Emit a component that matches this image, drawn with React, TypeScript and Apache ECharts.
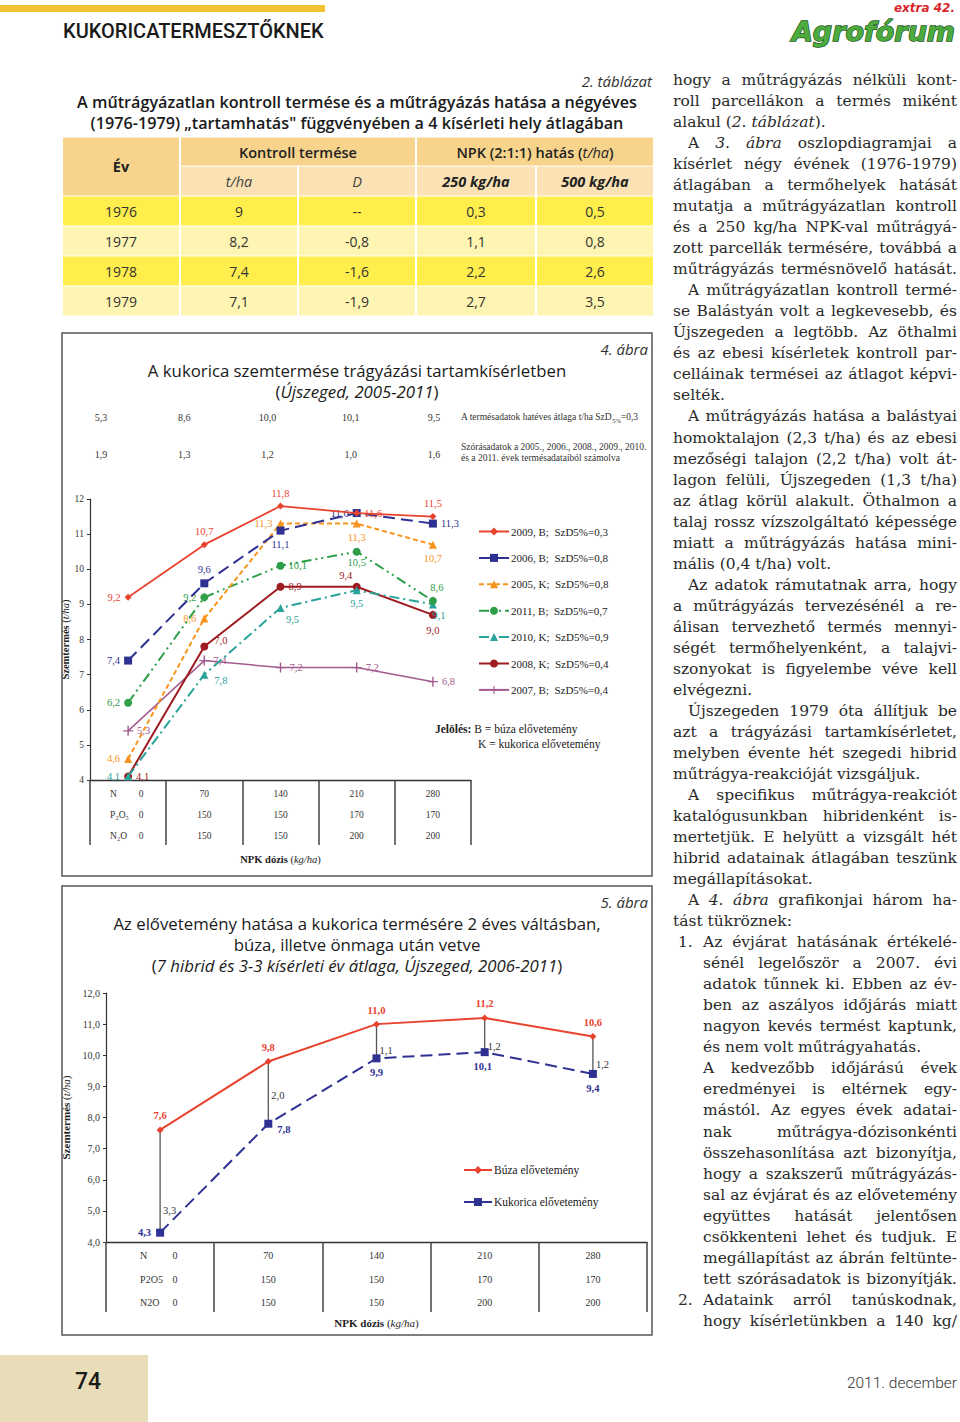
import React, { useEffect, useRef } from "react";
import * as echarts from "echarts";

// ---------- DATA ----------
const doseCats = ["0", "70", "140", "210", "280"];
const doseN = [0, 70, 140, 210, 280];
const doseP = [0, 150, 150, 170, 170];
const doseK = [0, 150, 150, 200, 200];
const rowNames4 = ["N", "P₂O₅", "N₂O"];
const rowNames5 = ["N", "P2O5", "N2O"];

// Table (2. táblázat)
const tableYears = ["1976", "1977", "1978", "1979"];
const controlYield = [9, 8.2, 7.4, 7.1];
const controlD: (number | null)[] = [null, -0.8, -1.6, -1.9];
const npk250 = [0.3, 1.1, 2.2, 2.7];
const npk500 = [0.5, 0.8, 2.6, 3.5];

// 4. ábra – plotted values
const s2009 = [9.2, 10.7, 11.8, 11.6, 11.5];
const s2006 = [7.4, 9.6, 11.1, 11.6, 11.3];
const s2005 = [4.6, 8.6, 11.3, 11.3, 10.7];
const s2011 = [6.2, 9.2, 10.1, 10.5, 9.1];
const s2010 = [4.1, 7.0, 8.9, 9.4, 9.0];
const s2008 = [4.1, 7.8, 9.5, 9.5, 8.7];
const s2007 = [5.4, 7.4, 7.2, 7.2, 6.8];
// 4. ábra – printed data labels
const l2009 = [9.2, 10.7, 11.8, 11.6, 11.5];
const l2006 = [7.4, 9.6, 11.1, 11.6, 11.3];
const l2005 = [4.6, 8.6, 11.3, 11.3, 10.7];
const l2011 = [6.2, 9.2, 10.1, 10.5, 8.6];
const l2010 = [4.1, 7.8, 9.5, 9.5, 9.1];
const l2008 = [4.1, 7.0, 8.9, 9.4, 9.0];
const l2007 = [5.3, 7.4, 7.2, 7.2, 6.8];
const avg6 = [5.3, 8.6, 10.0, 10.1, 9.5];
const sd6 = [1.9, 1.3, 1.2, 1.0, 1.6];

// 5. ábra
const buza = [7.6, 9.8, 11.0, 11.2, 10.6];
const kukorica = [4.3, 7.8, 9.9, 10.1, 9.4];
const diffs = [3.3, 2.0, 1.1, 1.2, 1.2];

// Body text column
const bodyLines: string[] = [
  "hogy a műtrágyázás nélküli kont-",
  "roll parcellákon a termés miként",
  "alakul (_2. táblázat_).|",
  ">A _3. ábra_ oszlopdiagramjai a",
  "kísérlet négy évének (1976-1979)",
  "átlagában a termőhelyek hatását",
  "mutatja a műtrágyázatlan kontroll",
  "és a 250 kg/ha NPK-val műtrágyá-",
  "zott parcellák termésére, továbbá a",
  "műtrágyázás termésnövelő hatását.",
  ">A műtrágyázatlan kontroll termé-",
  "se Balástyán volt a legkevesebb, és",
  "Újszegeden a legtöbb. Az öthalmi",
  "és az ebesi kísérletek kontroll par-",
  "celláinak termései az átlagot képvi-",
  "selték.|",
  ">A műtrágyázás hatása a balástyai",
  "homoktalajon (2,3 t/ha) és az ebesi",
  "mezőségi talajon (2,2 t/ha) volt át-",
  "lagon felüli, Újszegeden (1,3 t/ha)",
  "az átlag körül alakult. Öthalmon a",
  "talaj rossz vízszolgáltató képessége",
  "miatt a műtrágyázás hatása mini-",
  "mális (0,4 t/ha) volt.|",
  ">Az adatok rámutatnak arra, hogy",
  "a műtrágyázás tervezésénél a re-",
  "álisan tervezhető termés mennyi-",
  "ségét termőhelyenként, a talajvi-",
  "szonyokat is figyelembe véve kell",
  "elvégezni.|",
  ">Újszegeden 1979 óta állítjuk be",
  "azt a trágyázási tartamkísérletet,",
  "melyben évente hét szegedi hibrid",
  "műtrágya-reakcióját vizsgáljuk.|",
  ">A specifikus műtrágya-reakciót",
  "katalógusunkban hibridenként is-",
  "mertetjük. E helyütt a vizsgált hét",
  "hibrid adatainak átlagában teszünk",
  "megállapításokat.|",
  ">A _4. ábra_ grafikonjai három ha-",
  "tást tükröznek:|",
  "#1.#Az évjárat hatásának értékelé-",
  "~sénél legelőször a 2007. évi",
  "~adatok tűnnek ki. Ebben az év-",
  "~ben az aszályos időjárás miatt",
  "~nagyon kevés termést kaptunk,",
  "~és nem volt műtrágyahatás.|",
  "~A kedvezőbb időjárású évek",
  "~eredményei is eltérnek egy-",
  "~mástól. Az egyes évek adatai-",
  "~nak műtrágya-dózisonkénti",
  "~összehasonlítása azt bizonyítja,",
  "~hogy a szakszerű műtrágyázás-",
  "~sal az évjárat és az elővetemény",
  "~együttes hatását jelentősen",
  "~csökkenteni lehet és tudjuk. E",
  "~megállapítást az ábrán feltünte-",
  "~tett szórásadatok is bizonyítják.",
  "#2.#Adataink arról tanúskodnak,",
  "~hogy kísérletünkben a 140 kg/",
];

// ---------- STYLE ----------
const SERIF = '"Liberation Serif", "Times New Roman", serif';
const BODY = '"DejaVu Serif", serif';
const SANS = '"Open Sans", "Noto Sans", sans-serif';
const BODY_SIZE = 15.5;
const TITLE_SIZE = 16.8;

const fmt = (v: number) => v.toFixed(1).replace(".", ",");
const fmtT = (v: number) => String(v).replace(".", ",");

function T(x: number, y: number, text: string, s: any = {}) {
  const align = s.align || "left";
  const va = s.verticalAlign || "middle";
  return {
    type: "text",
    x,
    y,
    silent: true,
    z: 10,
    style: { fill: "#222", ...s, text, align, verticalAlign: va, textAlign: align, textVerticalAlign: va },
  };
}

type Seg = { t: string; i: boolean };
function parseWords(line: string): Seg[][] {
  const words: Seg[][] = [];
  let cur: Seg[] = [];
  let buf = "";
  let it = false;
  for (const ch of line) {
    if (ch === "_") {
      if (buf) cur.push({ t: buf, i: it });
      buf = "";
      it = !it;
      continue;
    }
    if (ch === " ") {
      if (buf) cur.push({ t: buf, i: it });
      buf = "";
      if (cur.length) words.push(cur);
      cur = [];
      continue;
    }
    buf += ch;
  }
  if (buf) cur.push({ t: buf, i: it });
  if (cur.length) words.push(cur);
  return words;
}

function buildGraphics(): any[] {
  const g: any[] = [];
  // header
  g.push({ type: "rect", silent: true, shape: { x: 0, y: 5, width: 325, height: 7 }, style: { fill: "#F2C230" } });
  g.push(T(63, 31, "KUKORICATERMESZTŐKNEK", { fontFamily: "Roboto", fontSize: 20, fontWeight: 500, fill: "#1a1a1a" }));
  g.push(T(955, 8, "extra 42.", { align: "right", fontFamily: '"DejaVu Sans"', fontSize: 12, fontWeight: "bold", fontStyle: "italic", fill: "#d8262c" }));
  g.push(T(955, 31, "Agrofórum", { align: "right", fontFamily: '"DejaVu Sans"', fontSize: 27, fontWeight: "bold", fontStyle: "italic", fill: "#4caa3e", stroke: "#1d5a20", lineWidth: 1.4 }));

  // table title
  g.push(T(652, 81, "2. táblázat", { align: "right", fontFamily: SANS, fontSize: 15, fontStyle: "italic", fill: "#333" }));
  g.push(T(357, 102, "A műtrágyázatlan kontroll termése és a műtrágyázás hatása a négyéves", { align: "center", fontFamily: SANS, fontSize: 16.2, fontWeight: 600, fill: "#1a1a1a" }));
  g.push(T(357, 123, "(1976-1979) „tartamhatás\" függvényében a 4 kísérleti hely átlagában", { align: "center", fontFamily: SANS, fontSize: 16.2, fontWeight: 600, fill: "#1a1a1a" }));

  // table
  const cx = [62, 180, 298, 416, 536, 654];
  const H1 = "#F7D38C";
  const H2 = "#FAE2B4";
  const cell = (x1: number, x2: number, y1: number, y2: number, fill: string) =>
    g.push({ type: "rect", silent: true, shape: { x: x1 + 1, y: y1 + 0.5, width: x2 - x1 - 2, height: y2 - y1 - 1 }, style: { fill } });
  cell(cx[0], cx[1], 137, 196, H1);
  cell(cx[1], cx[3], 137, 166, H1);
  cell(cx[3], cx[5], 137, 166, H1);
  for (let c = 1; c < 5; c++) cell(cx[c], cx[c + 1], 166, 196, H2);
  const hs = { align: "center", fontFamily: SANS, fontSize: 14.5, fill: "#222" };
  g.push(T(121, 166, "Év", { ...hs, fontWeight: "bold" }));
  g.push(T(298, 152, "Kontroll termése", { ...hs, fontWeight: 600 }));
  g.push(T(535, 152, "NPK (2:1:1) hatás ({i|t/ha})", { ...hs, fontWeight: 600, rich: { i: { fontFamily: SANS, fontSize: 14.5, fontStyle: "italic", fontWeight: "normal", fill: "#222" } } }));
  g.push(T(239, 181, "t/ha", { ...hs, fontStyle: "italic", fill: "#444" }));
  g.push(T(357, 181, "D", { ...hs, fontStyle: "italic", fill: "#444" }));
  g.push(T(476, 181, "250 kg/ha", { ...hs, fontStyle: "italic", fontWeight: "bold" }));
  g.push(T(595, 181, "500 kg/ha", { ...hs, fontStyle: "italic", fontWeight: "bold" }));
  const rowY = [196, 226, 256, 286, 316];
  tableYears.forEach((yr, r) => {
    const fill = r % 2 === 0 ? "#FFEE4C" : "#FFF5B2";
    for (let c = 0; c < 5; c++) cell(cx[c], cx[c + 1], rowY[r], rowY[r + 1], fill);
    const vals = [yr, fmtT(controlYield[r]), controlD[r] == null ? "--" : fmtT(controlD[r] as number), fmtT(npk250[r]), fmtT(npk500[r])];
    vals.forEach((v, c) => g.push(T((cx[c] + cx[c + 1]) / 2, (rowY[r] + rowY[r + 1]) / 2, v, { align: "center", fontFamily: SANS, fontSize: 14, fill: "#333" })));
  });

  // chart boxes
  g.push({ type: "rect", silent: true, z: 1, shape: { x: 62, y: 333, width: 590, height: 543 }, style: { fill: "none", stroke: "#555", lineWidth: 1.5 } });
  g.push({ type: "rect", silent: true, z: 1, shape: { x: 62, y: 886, width: 590, height: 449 }, style: { fill: "none", stroke: "#555", lineWidth: 1.5 } });

  // 4. ábra texts
  g.push(T(648, 349, "4. ábra", { align: "right", fontFamily: SANS, fontSize: 15, fontStyle: "italic", fill: "#333" }));
  g.push(T(357, 370, "A kukorica szemtermése trágyázási tartamkísérletben", { align: "center", fontFamily: SANS, fontSize: TITLE_SIZE, fill: "#1a1a1a" }));
  g.push(T(357, 391, "({i|Újszeged, 2005-2011})", { align: "center", fontFamily: SANS, fontSize: TITLE_SIZE, fill: "#1a1a1a", rich: { i: { fontFamily: SANS, fontSize: TITLE_SIZE, fontStyle: "italic", fill: "#1a1a1a" } } }));
  const ns = { align: "center", fontFamily: SERIF, fontSize: 10, fill: "#333" };
  avg6.forEach((v, i) => g.push(T(101 + i * 83.25, 417, fmt(v), ns)));
  sd6.forEach((v, i) => g.push(T(101 + i * 83.25, 454, fmt(v), ns)));
  const small = { fontFamily: SERIF, fontSize: 9.5, fill: "#333" };
  g.push(T(461, 417, "A termésadatok hatéves átlaga t/ha SzD{s|5%}=0,3", { ...small, rich: { s: { fontFamily: SERIF, fontSize: 6.5, fill: "#333", verticalAlign: "bottom", padding: [6, 0, 0, 0] } } }));
  g.push(T(461, 447, "Szórásadatok a 2005., 2006., 2008., 2009., 2010.", small));
  g.push(T(461, 458, "és a 2011. évek termésadataiból számolva", small));
  g.push(T(435, 729, "{b|Jelölés:} B = búza elővetemény", { fontFamily: SERIF, fontSize: 11.5, fill: "#222", rich: { b: { fontFamily: SERIF, fontSize: 11.5, fontWeight: "bold", fill: "#222" } } }));
  g.push(T(478, 744, "K = kukorica elővetemény", { fontFamily: SERIF, fontSize: 11.5, fill: "#222" }));

  // 5. ábra texts
  g.push(T(648, 902, "5. ábra", { align: "right", fontFamily: SANS, fontSize: 15, fontStyle: "italic", fill: "#333" }));
  g.push(T(357, 923, "Az elővetemény hatása a kukorica termésére 2 éves váltásban,", { align: "center", fontFamily: SANS, fontSize: TITLE_SIZE, fill: "#1a1a1a" }));
  g.push(T(357, 944, "búza, illetve önmaga után vetve", { align: "center", fontFamily: SANS, fontSize: TITLE_SIZE, fill: "#1a1a1a" }));
  g.push(T(357, 965, "({i|7 hibrid és 3-3 kísérleti év átlaga, Újszeged, 2006-2011})", { align: "center", fontFamily: SANS, fontSize: TITLE_SIZE, fill: "#1a1a1a", rich: { i: { fontFamily: SANS, fontSize: TITLE_SIZE, fontStyle: "italic", fill: "#1a1a1a" } } }));

  // body column
  const cv = document.createElement("canvas").getContext("2d")!;
  const mw = (t: string, it: boolean) => {
    cv.font = `${it ? "italic " : ""}${BODY_SIZE}px "DejaVu Serif"`;
    return cv.measureText(t).width;
  };
  const bs = (it: boolean) => ({ fontFamily: BODY, fontSize: BODY_SIZE, fontStyle: it ? "italic" : "normal", fill: "#2a2a2a" });
  bodyLines.forEach((raw, li) => {
    let line = raw;
    let x0 = 673;
    let num: string | null = null;
    let justify = true;
    if (line.endsWith("|")) {
      justify = false;
      line = line.slice(0, -1);
    }
    if (line.startsWith(">")) {
      x0 = 688;
      line = line.slice(1);
    } else if (line.startsWith("~")) {
      x0 = 703;
      line = line.slice(1);
    } else if (line.startsWith("#")) {
      const k = line.indexOf("#", 1);
      num = line.slice(1, k);
      line = line.slice(k + 1);
      x0 = 703;
    }
    const y = 80 + li * 21.03;
    if (num) g.push(T(678, y, num, bs(false)));
    const words = parseWords(line);
    const widths = words.map((w) => w.reduce((a, s) => a + mw(s.t, s.i), 0));
    const total = widths.reduce((a, b) => a + b, 0);
    const sp = mw(" ", false);
    let gap = sp;
    if (justify && words.length > 1) gap = Math.max(sp * 0.5, (957 - x0 - total) / (words.length - 1));
    let x = x0;
    words.forEach((w, wi) => {
      let xs = x;
      w.forEach((s) => {
        g.push(T(xs, y, s.t, bs(s.i)));
        xs += mw(s.t, s.i);
      });
      x += widths[wi] + gap;
    });
  });

  // footer
  g.push({ type: "rect", silent: true, shape: { x: 0, y: 1355, width: 148, height: 67 }, style: { fill: "#E9DDB9" } });
  g.push(T(88, 1381, "74", { align: "center", fontFamily: "Roboto", fontSize: 23, fontWeight: 500, fill: "#1a1a1a" }));
  g.push(T(957, 1383, "2011. december", { align: "right", fontFamily: "Roboto", fontSize: 15.5, fontWeight: 300, fill: "#333" }));
  return g;
}

const PLUS = "path://M4.3,0H5.7V4.3H10V5.7H5.7V10H4.3V5.7H0V4.3H4.3Z";

const series4Defs = [
  { name: "2009, B;  SzD5%=0,3", vals: s2009, labs: l2009, color: "#e8432f", type: "solid", width: 1.8, symbol: "diamond", size: 7,
    pos: ["left", "top", "top", "right", "top"], off: [[0, 0], [0, 0], [0, 0], [0, 0], [0, 0]] },
  { name: "2006, B;  SzD5%=0,8", vals: s2006, labs: l2006, color: "#2e3192", type: [12, 6], width: 2, symbol: "rect", size: 8,
    pos: ["left", "top", "bottom", "left", "right"], off: [[0, 0], [0, 0], [0, 0], [0, 0], [0, 0]] },
  { name: "2005, K;  SzD5%=0,8", vals: s2005, labs: l2005, color: "#f7941d", type: [5, 3], width: 2, symbol: "triangle", size: 8,
    pos: ["left", "left", "left", "bottom", "bottom"], off: [[0, 0], [0, 0], [0, 0], [0, 0], [0, 0]] },
  { name: "2011, B;  SzD5%=0,7", vals: s2011, labs: l2011, color: "#2e9e48", type: [10, 4, 2, 4, 2, 4], width: 2, symbol: "circle", size: 8,
    pos: ["left", "left", "right", "bottom", "top"], off: [[0, 0], [0, 0], [0, 0], [0, -3], [4, 0]] },
  { name: "2010, K;  SzD5%=0,9", vals: s2010, labs: l2010, color: "#2aa39a", type: [10, 4, 2, 4], width: 2, symbol: "triangle", size: 8,
    pos: ["left", "right", "bottom", "bottom", "bottom"], off: [[0, 0], [2, 6], [12, -2], [0, 0], [6, -2]] },
  { name: "2008, K;  SzD5%=0,4", vals: s2008, labs: l2008, color: "#9e1b20", type: "solid", width: 2, symbol: "circle", size: 8,
    pos: ["right", "right", "right", "top", "bottom"], off: [[0, 0], [2, -6], [0, 0], [-11, 2], [0, 2]] },
  { name: "2007, B;  SzD5%=0,4", vals: s2007, labs: l2007, color: "#a35a8e", type: "solid", width: 1.5, symbol: PLUS, size: 10,
    pos: ["right", "right", "right", "right", "right"], off: [[0, 0], [0, 0], [0, 0], [0, 0], [0, 0]] },
];

function xAxisCfg(gridIndex: number, rows: string[], tickLen: number, lh: number, margin: number, fs: number, hw: number, nameGap: number) {
  const rich: any = {
    h: { width: hw, align: "left", fontFamily: SERIF, fontSize: fs, lineHeight: lh, color: "#333" },
    v: { width: 10, align: "center", fontFamily: SERIF, fontSize: fs, lineHeight: lh, color: "#333" },
    b: { fontFamily: SERIF, fontSize: fs + 1, fontWeight: "bold", color: "#222" },
    i: { fontFamily: SERIF, fontSize: fs + 1, fontStyle: "italic", color: "#222" },
  };
  const doses = [doseN, doseP, doseK];
  return {
    type: "category",
    gridIndex,
    data: doseCats,
    boundaryGap: true,
    axisLine: { lineStyle: { color: "#333", width: 1.3 } },
    axisTick: { show: true, interval: 0, length: tickLen, lineStyle: { color: "#444", width: 1.5 } },
    axisLabel: {
      interval: 0,
      margin,
      lineHeight: lh,
      fontFamily: SERIF,
      fontSize: fs,
      color: "#333",
      rich,
      formatter: (_v: string, i: number) =>
        i === 0
          ? rows.map((r, k) => `{h|${r}}{v|${doses[k][0]}}`).join("\n")
          : doses.map((d) => String(d[i])).join("\n"),
    },
    name: "{b|NPK dózis} ({i|kg/ha})",
    nameLocation: "middle",
    nameGap,
    nameTextStyle: { fontFamily: SERIF, fontSize: fs + 1, color: "#222", rich },
  };
}

function yAxisCfg(gridIndex: number, fs: number, nameGap: number, f: (v: number) => string) {
  return {
    type: "value",
    gridIndex,
    min: 4,
    max: 12,
    interval: 1,
    axisLine: { show: true, lineStyle: { color: "#333", width: 1.2 } },
    axisTick: { show: true, length: 3, lineStyle: { color: "#333" } },
    splitLine: { show: false },
    axisLabel: { fontFamily: SERIF, fontSize: fs, color: "#333", margin: 6, formatter: f },
    name: "{b|Szemtermés} ({i|t/ha})",
    nameLocation: "middle",
    nameGap,
    nameRotate: 90,
    nameTextStyle: {
      fontFamily: SERIF,
      fontSize: fs + 1,
      color: "#222",
      rich: {
        b: { fontFamily: SERIF, fontSize: fs + 1, fontWeight: "bold", color: "#222" },
        i: { fontFamily: SERIF, fontSize: fs + 1, fontStyle: "italic", color: "#222" },
      },
    },
  };
}

function buildOption(): any {
  const series: any[] = [];
  series4Defs.forEach((d, si) => {
    series.push({
      type: "line",
      name: d.name,
      xAxisIndex: 0,
      yAxisIndex: 0,
      z: 3 + (7 - si) * 0.1,
      symbol: d.symbol,
      symbolSize: d.size,
      lineStyle: { color: d.color, width: d.width, type: d.type },
      itemStyle: { color: d.color },
      emphasis: { disabled: true },
      label: { show: true, fontFamily: SERIF, fontSize: 10.5, color: d.color, distance: 4 },
      data: d.vals.map((v, i) => ({
        value: v,
        label: { formatter: fmt(d.labs[i]), position: d.pos[i], offset: d.off[i] },
      })),
    });
  });

  const diffLift = [22, 28, 8, 6, 9];
  series.push({
    type: "custom",
    name: "diff",
    xAxisIndex: 1,
    yAxisIndex: 1,
    z: 2,
    silent: true,
    encode: { x: 0, y: [1, 2] },
    data: buza.map((b, i) => [i, kukorica[i], b, diffs[i]]),
    renderItem: (params: any, api: any) => {
      const i = api.value(0);
      const lo = api.coord([i, api.value(1)]);
      const hi = api.coord([i, api.value(2)]);
      return {
        type: "group",
        children: [
          { type: "line", shape: { x1: lo[0], y1: lo[1], x2: hi[0], y2: hi[1] }, style: { stroke: "#555", lineWidth: 1.3 } },
          {
            type: "text",
            x: lo[0] + 3,
            y: lo[1] - diffLift[params.dataIndex],
            style: { text: fmt(api.value(3)), fill: "#333", fontFamily: SERIF, fontSize: 10.5, align: "left", verticalAlign: "middle" },
          },
        ],
      };
    },
  });
  series.push({
    type: "line",
    name: "Búza elővetemény",
    xAxisIndex: 1,
    yAxisIndex: 1,
    z: 4,
    symbol: "diamond",
    symbolSize: 7,
    lineStyle: { color: "#e8432f", width: 2 },
    itemStyle: { color: "#e8432f" },
    emphasis: { disabled: true },
    label: { show: true, position: "top", fontFamily: SERIF, fontSize: 10.5, fontWeight: "bold", color: "#e8432f", formatter: (p: any) => fmt(p.value) },
    data: buza,
  });
  const kPos = ["left", "right", "bottom", "bottom", "bottom"];
  const kOff = [[0, 0], [0, 6], [0, 0], [-2, 0], [0, 0]];
  series.push({
    type: "line",
    name: "Kukorica elővetemény",
    xAxisIndex: 1,
    yAxisIndex: 1,
    z: 4,
    symbol: "rect",
    symbolSize: 8,
    lineStyle: { color: "#2e3192", width: 2, type: [12, 6] },
    itemStyle: { color: "#2e3192" },
    emphasis: { disabled: true },
    label: { show: true, fontFamily: SERIF, fontSize: 10.5, fontWeight: "bold", color: "#2e3192" },
    data: kukorica.map((v, i) => ({ value: v, label: { formatter: fmt(v), position: kPos[i], offset: kOff[i] } })),
  });

  return {
    animation: false,
    backgroundColor: "#ffffff",
    grid: [
      { left: 90, top: 499, width: 381, height: 281 },
      { left: 106, top: 993, width: 541, height: 249 },
    ],
    xAxis: [
      xAxisCfg(0, rowNames4, 65, 21, 3.5, 9.5, 26, 74),
      xAxisCfg(1, rowNames5, 70, 23.5, 2, 10, 30, 75),
    ],
    yAxis: [
      yAxisCfg(0, 9.5, 13, (v: number) => String(v)),
      yAxisCfg(1, 10, 25, (v: number) => fmt(v)),
    ],
    legend: [
      {
        orient: "vertical",
        left: 478,
        top: 526,
        padding: 0,
        itemWidth: 30,
        itemHeight: 10,
        itemGap: 15.4,
        selectedMode: false,
        data: series4Defs.map((d) => d.name),
        textStyle: { fontFamily: SERIF, fontSize: 11, color: "#222", padding: [0, 0, 0, -3] },
      },
      {
        orient: "vertical",
        left: 463,
        top: 1164,
        padding: 0,
        itemWidth: 28,
        itemHeight: 10,
        itemGap: 20,
        selectedMode: false,
        data: ["Búza elővetemény", "Kukorica elővetemény"],
        textStyle: { fontFamily: SERIF, fontSize: 11.5, color: "#222", padding: [0, 0, 0, -3] },
      },
    ],
    graphic: buildGraphics(),
    series,
  };
}

export default function App() {
  const ref = useRef<HTMLDivElement>(null);
  useEffect(() => {
    const chart = echarts.init(ref.current!, null, { renderer: "svg", width: 960, height: 1422 });
    chart.setOption(buildOption());
    return () => chart.dispose();
  }, []);
  return (
    <div
      ref={ref}
      style={{ position: "absolute", left: 0, top: 0, width: 960, height: 1422, background: "#fff" }}
    />
  );
}
